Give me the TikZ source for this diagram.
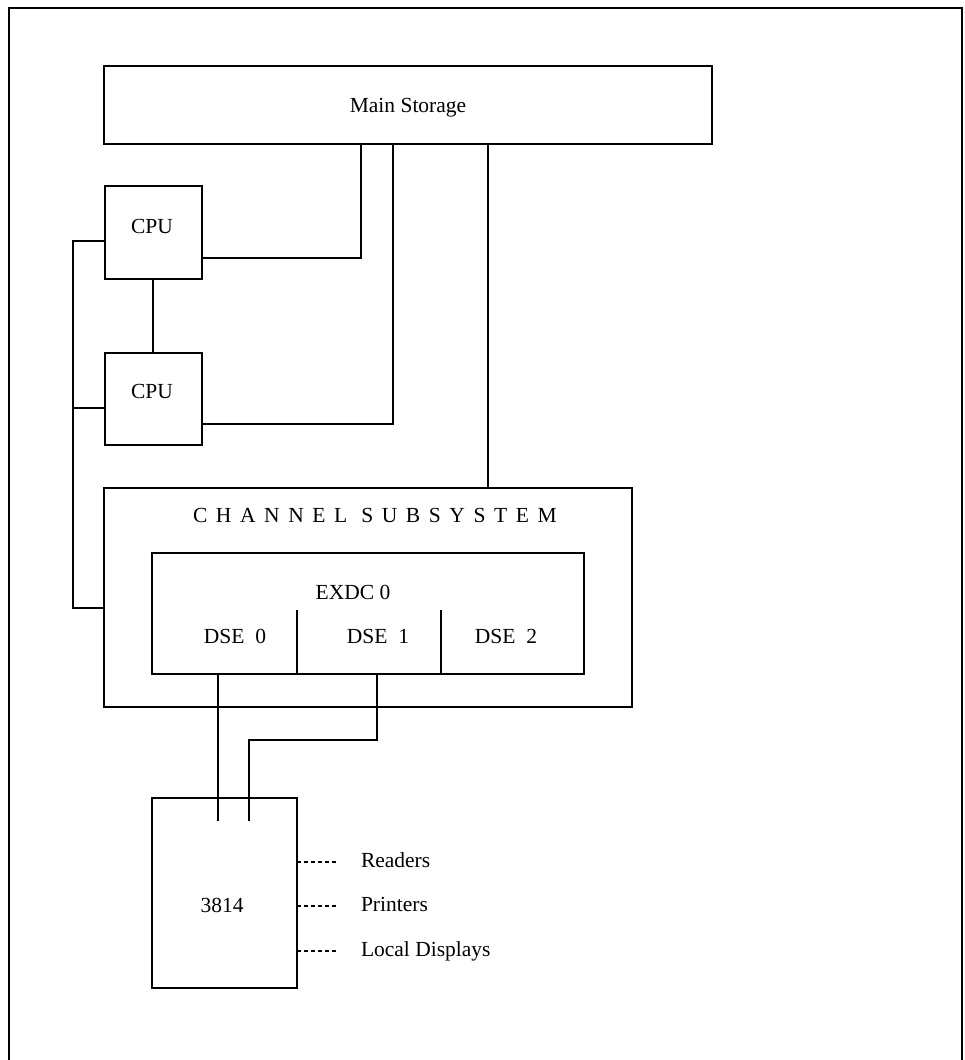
\documentclass[tikz,border=0pt]{standalone}
\usepackage{fontspec}
\setmainfont{Liberation Serif}
\begin{document}
\begin{tikzpicture}[x=1pt,y=-1pt,
  box/.style={draw,line width=2.4pt,inner sep=0pt,outer sep=0pt},
  conn/.style={line width=2.2pt},
  lbl/.style={inner sep=0pt,outer sep=0pt,font=\fontsize{21.5}{24}\selectfont,anchor=base},
  dsh/.style={line width=1.8pt,dash pattern=on 4pt off 3pt}]
\useasboundingbox (0,0) rectangle (964,1060);
% outer frame (bottom edge outside the page)
\draw[line width=2.6pt] (9,1070) -- (9,8) -- (962,8) -- (962,1070);
% boxes
\node[box,minimum width=608pt,minimum height=78pt] (ms) at (408,105) {};
\node[box,minimum width=97pt,minimum height=93pt] (cpu1) at (153.5,232.5) {};
\node[box,minimum width=97pt,minimum height=92pt] (cpu2) at (153.5,399) {};
\node[box,minimum width=528pt,minimum height=219pt] (chan) at (368,597.5) {};
\node[box,minimum width=432pt,minimum height=121pt] (exdc) at (368,613.5) {};
\node[box,minimum width=145pt,minimum height=190pt] (dev) at (224.5,893) {};
% labels
\node[lbl] (tms) at (408,112) {Main Storage};
\node[lbl] (tc1) at (152,233) {CPU};
\node[lbl] (tc2) at (152,398) {CPU};
\node[lbl,anchor=base west] (tch) at (193,522) {\addfontfeature{LetterSpace=40}CHANNEL SUBSYSTEM};
\node[lbl] (tex) at (353,599) {EXDC 0};
\node[lbl] (td0) at (235,643) {DSE\ \ 0};
\node[lbl] (td1) at (378,643) {DSE\ \ 1};
\node[lbl] (td2) at (506,643) {DSE\ \ 2};
\node[lbl] (tdev) at (222,912) {3814};
\node[lbl,anchor=base west] (rd) at (361,867) {Readers};
\node[lbl,anchor=base west] (pr) at (361,911) {Printers};
\node[lbl,anchor=base west] (ld) at (361,956) {Local Displays};
% named junctions
\coordinate (j1) at (361,258);
\coordinate (j2) at (393,424);
\coordinate (bt) at (73,241);
\coordinate (bm) at (73,408);
\coordinate (bb) at (73,608);
\coordinate (k1) at (377,740);
\coordinate (k2) at (249,740);
\coordinate (cc) at (153,0);
% connectors
\draw[conn] (cpu1.east |- j1) -- (j1) -- (j1 |- ms.south);
\draw[conn] (cpu2.east |- j2) -- (j2) -- (j2 |- ms.south);
\draw[conn] (488,0 |- ms.south) -- (488,0 |- chan.north);
\draw[conn] (cc |- cpu1.south) -- (cc |- cpu2.north);
\draw[conn] (cpu1.west |- bt) -- (bt) -- (bb) -- (chan.west |- bb);
\draw[conn] (bm) -- (cpu2.west |- bm);
% dividers inside EXDC
\draw[conn] (297,0 |- exdc.south) -- (297,610);
\draw[conn] (441,0 |- exdc.south) -- (441,610);
% EXDC to 3814
\draw[conn] (218,0 |- exdc.south) -- (218,821);
\draw[conn] (k1 |- exdc.south) -- (k1) -- (k2) -- (249,821);
% dashed attachments
\draw[dsh] (dev.east |- 0,862) -- (338,862);
\draw[dsh] (dev.east |- 0,906) -- (338,906);
\draw[dsh] (dev.east |- 0,951) -- (338,951);
\end{tikzpicture}
\end{document}
